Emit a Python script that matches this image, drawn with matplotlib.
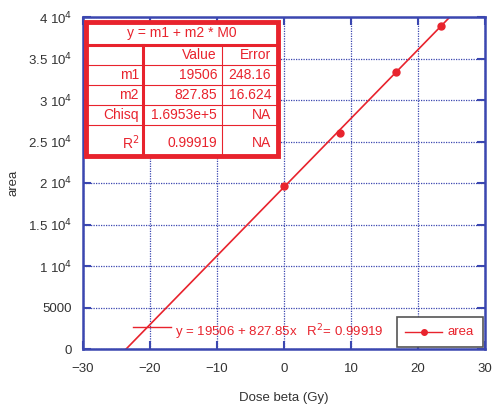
import numpy as np
import matplotlib
matplotlib.use("Agg")
from matplotlib import pyplot as plt
from matplotlib.patches import Rectangle
from matplotlib.lines import Line2D

plt.rcParams['font.family'] = ['Liberation Sans', 'DejaVu Sans']

# podaci
dose = [0, 8.36, 16.7, 23.4]
area = [19600, 26000, 33400, 38900]
m1, m2 = 19506, 827.85
xticks = [-30, -20, -10, 0, 10, 20, 30]
yticks = [0, 5000, 10000, 15000, 20000, 25000, 30000, 35000, 40000]
ylabels = ['0', '5000', r'1 10$^{4}$', r'1.5 10$^{4}$', r'2 10$^{4}$', r'2.5 10$^{4}$',
           r'3 10$^{4}$', r'3.5 10$^{4}$', r'4 10$^{4}$']
table_rows = [['', 'Value', 'Error'],
              ['m1', '19506', '248.16'],
              ['m2', '827.85', '16.624'],
              ['Chisq', '1.6953e+5', 'NA'],
              [r'R$^{2}$', '0.99919', 'NA']]

red = '#e8232d'
blue = '#3b47b0'
W, H = 492, 409

fig = plt.figure(figsize=(W / 100, H / 100), dpi=100)
ax = fig.add_axes([83 / W, 1 - 349 / H, (485 - 83) / W, (349 - 17) / H])

xs = np.array([-30, 30])
ax.plot(xs, m1 + m2 * xs, color=red, lw=1.2)
ax.plot(dose, area, 'o', color=red, ms=5)

ax.set_xlim(-30, 30)
ax.set_ylim(0, 40000)
ax.set_xticks(xticks)
ax.set_yticks(yticks)
ax.set_yticklabels(ylabels)
ax.grid(True, color=blue, ls=(0, (1, 1)), lw=0.9)
for s in ax.spines.values():
    s.set_color(blue)
    s.set_linewidth(1.8)
ax.tick_params(direction='in', length=6, width=1.5, color=blue, top=True, right=True,
               labelsize=9.5, labelcolor='#333333')
ax.tick_params(axis='x', pad=10)
ax.tick_params(axis='y', pad=8)
ax.set_xlabel('Dose beta (Gy)', fontsize=9.5, color='#333333', labelpad=12)
ax.set_ylabel('area', fontsize=9.5, color='#333333', labelpad=6)

# fit label
fig.add_artist(Line2D([133 / W, 171 / W], [1 - 327 / H, 1 - 327 / H], color=red, lw=1,
                      transform=fig.transFigure))
fig.text(175 / W, 1 - 332 / H, r'y = 19506 + 827.85x   R$^{2}$= 0.99919', color=red,
         fontsize=9.5, va='center', ha='left')

# legend
fig.add_artist(Rectangle((397 / W, 1 - 347 / H), 86 / W, 30 / H, transform=fig.transFigure,
                         fill=True, facecolor='white', edgecolor='#555555', lw=1.2))
fig.add_artist(Line2D([405 / W, 442 / W], [1 - 332 / H, 1 - 332 / H], color=red, lw=1,
                      transform=fig.transFigure))
fig.add_artist(Line2D([424 / W], [1 - 332 / H], color=red, marker='o', ms=4,
                      transform=fig.transFigure))
fig.text(448 / W, 1 - 332 / H, 'area', color=red, fontsize=9.5, va='center', ha='left')

# tablica fita
x0, x1, x2, x3 = 86, 143, 222, 278
ytop = 22
rows_y = [45, 65, 85, 105, 125, 156]
fig.add_artist(Rectangle((x0 / W, 1 - rows_y[-1] / H), (x3 - x0) / W, (rows_y[-1] - ytop) / H,
                         transform=fig.transFigure, facecolor='white', edgecolor=red, lw=3.5))


def hline(py, lw):
    fig.add_artist(Line2D([x0 / W, x3 / W], [1 - py / H, 1 - py / H], color=red, lw=lw,
                          transform=fig.transFigure))


def vline(px, lw):
    fig.add_artist(Line2D([px / W, px / W], [1 - rows_y[0] / H, 1 - rows_y[-1] / H], color=red,
                          lw=lw, transform=fig.transFigure))


hline(rows_y[0], 2.2)
for py in rows_y[1:-1]:
    hline(py, 0.8)
vline(x1, 2.2)
vline(x2, 0.8)

fs = 10
fig.text((x0 + x3) / 2 / W, 1 - (ytop + rows_y[0]) / 2 / H, 'y = m1 + m2 * M0', color=red,
         fontsize=fs, ha='center', va='center')
for i, row in enumerate(table_rows):
    top = rows_y[i]
    bot = rows_y[i + 1]
    yc = 1 - (top + bot) / 2 / H
    if i == len(table_rows) - 1:
        yc = 1 - (bot - 13) / H
    fig.text((x1 - 4) / W, yc, row[0], color=red, fontsize=fs, ha='right', va='center')
    fig.text((x2 - 5) / W, yc, row[1], color=red, fontsize=fs, ha='right', va='center')
    fig.text((x3 - 7) / W, yc, row[2], color=red, fontsize=fs, ha='right', va='center')

plt.savefig('out.png', dpi=100)
